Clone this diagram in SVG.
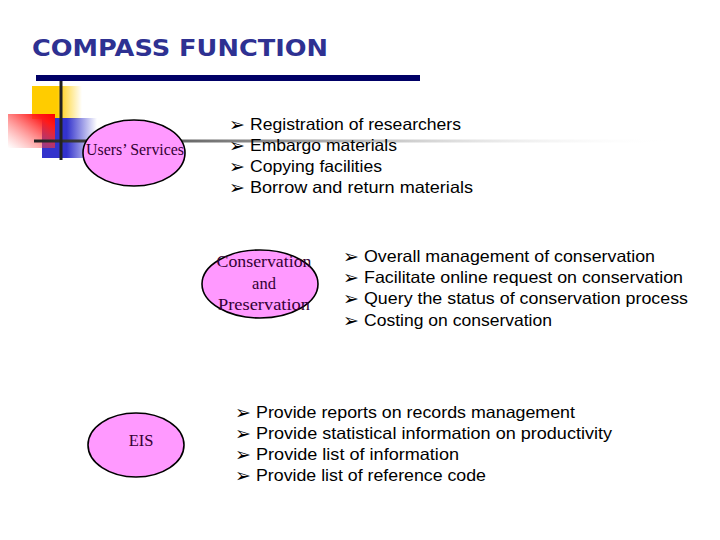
<svg xmlns="http://www.w3.org/2000/svg" width="720" height="540" viewBox="0 0 720 540">
<defs>
<linearGradient id="gY" x1="0" y1="0" x2="1" y2="0"><stop offset="0" stop-color="#ffcc00"/><stop offset="0.5" stop-color="#ffcc00"/><stop offset="1" stop-color="#ffcc00" stop-opacity="0"/></linearGradient>
<linearGradient id="gB" x1="0" y1="0" x2="1" y2="0"><stop offset="0" stop-color="#3333cc"/><stop offset="0.45" stop-color="#3333cc"/><stop offset="1" stop-color="#3333cc" stop-opacity="0"/></linearGradient>
<linearGradient id="gR" x1="1" y1="0" x2="0" y2="1"><stop offset="0" stop-color="#ff0000"/><stop offset="0.2" stop-color="#ff1a1a"/><stop offset="1" stop-color="#ff6666" stop-opacity="0"/></linearGradient>
<linearGradient id="gL" x1="0" y1="0" x2="1" y2="0"><stop offset="0" stop-color="#222222"/><stop offset="0.05" stop-color="#333333"/><stop offset="0.4" stop-color="#999999"/><stop offset="1" stop-color="#ffffff" stop-opacity="0"/></linearGradient>
</defs>
<style>
.title{font-family:"DejaVu Sans","Liberation Sans",sans-serif;font-weight:bold;font-size:23px;fill:#2e3192}
.node{fill:#ff99ff;stroke:#000000;stroke-width:1.6}
.lbl{font-family:"Liberation Serif","Times New Roman",serif;font-size:16.5px;fill:#330033;text-anchor:middle}
.item{font-family:"Liberation Sans",Arial,sans-serif;font-size:16.5px;fill:#000000}
.bul{font-family:"DejaVu Sans",sans-serif;font-size:19px;fill:#000000}
</style>
<rect width="720" height="540" fill="#ffffff"/>
<g id="decor">
<rect x="32" y="86" width="50" height="33" fill="url(#gY)"/>
<rect x="42" y="118" width="55" height="40" fill="url(#gB)"/>
<rect x="8" y="114" width="47" height="34" fill="url(#gR)"/>
<rect x="34" y="139.5" width="640" height="3" fill="url(#gL)"/>
<rect x="59.5" y="81" width="3" height="79" fill="#222222"/>
<rect x="36" y="75" width="384" height="6" fill="#000066"/>
</g>
<text class="title" x="32" y="56" textLength="296" lengthAdjust="spacingAndGlyphs">COMPASS FUNCTION</text>
<g id="connectors"></g>
<g id="users">
<ellipse class="node" cx="134" cy="153" rx="51" ry="33"/>
<text class="lbl" x="135" y="155" textLength="98" lengthAdjust="spacingAndGlyphs">Users’ Services</text>
</g>
<g id="users-list">
<text class="bul" x="229" y="131">➢</text><text class="item" x="250" y="130" textLength="211" lengthAdjust="spacingAndGlyphs">Registration of researchers</text>
<text class="bul" x="229" y="152">➢</text><text class="item" x="250" y="151" textLength="147" lengthAdjust="spacingAndGlyphs">Embargo materials</text>
<text class="bul" x="229" y="173">➢</text><text class="item" x="250" y="172" textLength="132" lengthAdjust="spacingAndGlyphs">Copying facilities</text>
<text class="bul" x="229" y="194">➢</text><text class="item" x="250" y="193" textLength="223" lengthAdjust="spacingAndGlyphs">Borrow and return materials</text>
</g>
<g id="conservation">
<ellipse class="node" cx="260" cy="284" rx="58" ry="34"/>
<text class="lbl" x="264" y="267" textLength="95" lengthAdjust="spacingAndGlyphs">Conservation</text>
<text class="lbl" x="264" y="289">and</text>
<text class="lbl" x="264" y="310" textLength="92" lengthAdjust="spacingAndGlyphs">Preservation</text>
</g>
<g id="conservation-list">
<text class="bul" x="343" y="263">➢</text><text class="item" x="364" y="262" textLength="291" lengthAdjust="spacingAndGlyphs">Overall management of conservation</text>
<text class="bul" x="343" y="284">➢</text><text class="item" x="364" y="283" textLength="319" lengthAdjust="spacingAndGlyphs">Facilitate online request on conservation</text>
<text class="bul" x="343" y="305">➢</text><text class="item" x="364" y="304" textLength="324" lengthAdjust="spacingAndGlyphs">Query the status of conservation process</text>
<text class="bul" x="343" y="327">➢</text><text class="item" x="364" y="326" textLength="188" lengthAdjust="spacingAndGlyphs">Costing on conservation</text>
</g>
<g id="eis">
<ellipse class="node" cx="136" cy="445" rx="48" ry="32"/>
<text class="lbl" x="141" y="446">EIS</text>
</g>
<g id="eis-list">
<text class="bul" x="235" y="419">➢</text><text class="item" x="256" y="418" textLength="319" lengthAdjust="spacingAndGlyphs">Provide reports on records management</text>
<text class="bul" x="235" y="440">➢</text><text class="item" x="256" y="439" textLength="356" lengthAdjust="spacingAndGlyphs">Provide statistical information on productivity</text>
<text class="bul" x="235" y="461">➢</text><text class="item" x="256" y="460" textLength="203" lengthAdjust="spacingAndGlyphs">Provide list of information</text>
<text class="bul" x="235" y="482">➢</text><text class="item" x="256" y="481" textLength="230" lengthAdjust="spacingAndGlyphs">Provide list of reference code</text>
</g>
</svg>
